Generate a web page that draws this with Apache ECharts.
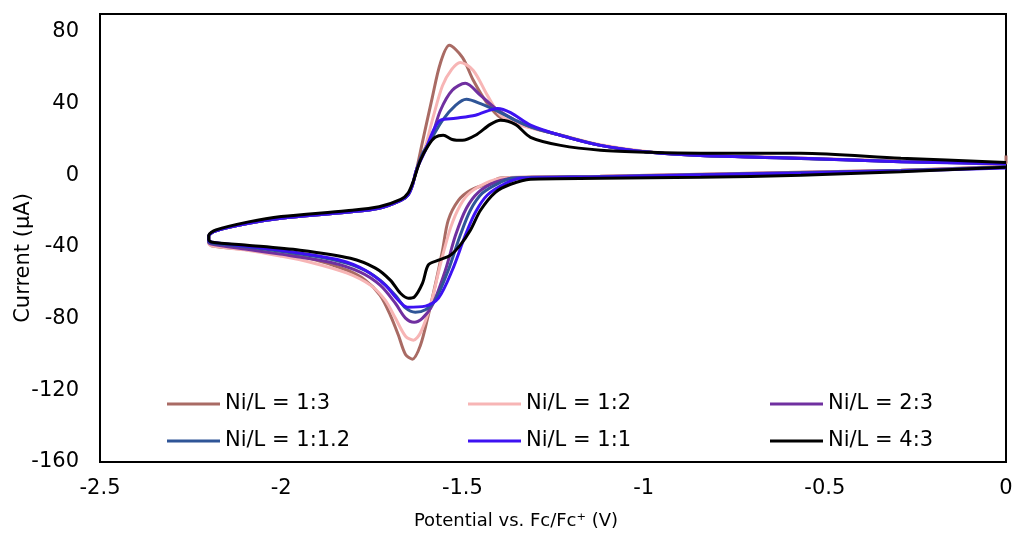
<!DOCTYPE html>
<html>
<head>
<meta charset="utf-8">
<script src="https://cdn.jsdelivr.net/npm/echarts@6/dist/echarts.min.js"></script>
<style>
html,body{margin:0;padding:0;background:#fff;}
#chart{width:1016px;height:536px;}
</style>
</head>
<body>
<div id="chart"></div>
<script>
// Series names and colours
const seriesNames = ['Ni/L = 1:3', 'Ni/L = 1:2', 'Ni/L = 2:3', 'Ni/L = 1:1.2', 'Ni/L = 1:1', 'Ni/L = 4:3'];
const seriesColors = ['#A96B64', '#F7B5B5', '#7030A0', '#2F5597', '#3D12F2', '#000000'];

// Axis ticks
const xTicks = [-2.5, -2, -1.5, -1, -0.5, 0];
const yTicks = [-160, -120, -80, -40, 0, 40, 80];

// [Potential (V), Current (µA)] — each trace: cathodic branch 0 -> -2.2 V, then anodic branch back to 0 V
const ni13 = [
  [0,5],[-0.29,2.8],[-0.57,1.7],[-0.84,0.6],[-1.12,-0.6],[-1.31,-1.0],[-1.395,-1.5],[-1.428,-4.5],[-1.478,-8.4],[-1.511,-14],[-1.539,-25],[-1.555,-42],[-1.572,-58.5],[-1.594,-78],[-1.616,-95],[-1.638,-102.6],[-1.657,-100],[-1.677,-89],[-1.699,-78],[-1.727,-67],[-1.768,-58.5],[-1.818,-53],[-1.92,-46.5],[-2.0,-44],[-2.094,-41.5],[-2.19,-39.5],[-2.2,-37.5],
  [-2.2,-34],[-2.18,-31],[-2.09,-26.8],[-2.0,-24],[-1.82,-20.6],[-1.73,-18.4],[-1.67,-14],[-1.65,-11],[-1.638,-5.6],[-1.627,2.8],[-1.611,17.8],[-1.583,43.5],[-1.561,62.4],[-1.536,72.5],[-1.5,65.8],[-1.47,53],[-1.431,40],[-1.395,32.3],[-1.312,26.8],[-1.229,22.3],[-1.119,16.7],[-0.981,12.8],[-0.843,11.1],[-0.566,9.5],[-0.29,7.8],[0,6.7],[0,11]
];
const ni12 = [
  [0,5],[-0.29,2.8],[-0.57,1.7],[-0.84,0.6],[-1.12,-0.6],[-1.31,-1.0],[-1.381,-1.4],[-1.423,-3.3],[-1.478,-9.5],[-1.506,-16.7],[-1.533,-29.5],[-1.561,-50],[-1.588,-72.5],[-1.616,-88],[-1.635,-92],[-1.657,-89.8],[-1.685,-79.7],[-1.713,-69.7],[-1.754,-61.3],[-1.818,-54.6],[-1.92,-48.5],[-2.003,-45],[-2.094,-41.8],[-2.19,-39.5],[-2.2,-38],
  [-2.2,-34],[-2.18,-31],[-2.09,-26.8],[-2.0,-24],[-1.82,-20.6],[-1.73,-18.4],[-1.67,-14],[-1.65,-11],[-1.638,-5.6],[-1.627,2.8],[-1.605,14],[-1.58,33],[-1.555,50],[-1.53,59],[-1.506,63],[-1.47,58.5],[-1.431,44.6],[-1.395,33.5],[-1.34,28],[-1.229,22.5],[-1.119,17],[-0.981,13],[-0.843,11.3],[-0.566,9.6],[-0.29,7.8],[0,6.7]
];
const ni23 = [
  [0,4.8],[-0.29,2.7],[-0.57,1.5],[-0.84,0.4],[-1.12,-0.7],[-1.35,-1.4],[-1.409,-3.9],[-1.456,-9.5],[-1.489,-18.4],[-1.519,-33.5],[-1.547,-53],[-1.583,-72.5],[-1.61,-79.7],[-1.633,-82],[-1.657,-79.7],[-1.685,-71.4],[-1.727,-61.3],[-1.782,-54],[-1.865,-48.5],[-2.003,-44],[-2.094,-41.3],[-2.19,-38.5],[-2.2,-37.5],
  [-2.2,-34],[-2.18,-31],[-2.09,-26.8],[-2.0,-24],[-1.82,-20.6],[-1.73,-18.4],[-1.67,-14],[-1.65,-11],[-1.638,-5.6],[-1.627,2.8],[-1.61,12],[-1.588,19.5],[-1.561,36],[-1.528,47.4],[-1.492,51.3],[-1.45,44.6],[-1.409,37.4],[-1.354,30.7],[-1.312,27],[-1.229,22.3],[-1.119,16.7],[-0.981,12.8],[-0.843,11],[-0.566,9.4],[-0.29,7.6],[0,6.5]
];
const ni112 = [
  [0,4.6],[-0.29,2.6],[-0.57,1.4],[-0.84,0.3],[-1.12,-0.8],[-1.36,-1.5],[-1.395,-3.9],[-1.445,-10],[-1.478,-19.5],[-1.506,-33.5],[-1.539,-53],[-1.575,-69.7],[-1.602,-75],[-1.63,-76.4],[-1.657,-74],[-1.685,-67],[-1.727,-58.5],[-1.782,-51.8],[-1.865,-46.8],[-2.003,-42.4],[-2.094,-40],[-2.19,-38],[-2.2,-37],
  [-2.2,-34],[-2.18,-31],[-2.09,-26.8],[-2.0,-24],[-1.82,-20.6],[-1.73,-18.4],[-1.67,-14],[-1.65,-11],[-1.638,-5.6],[-1.627,2.8],[-1.61,12],[-1.588,19.5],[-1.555,30.7],[-1.519,39],[-1.489,42.4],[-1.45,40],[-1.395,35],[-1.354,30.7],[-1.312,27],[-1.229,22.3],[-1.119,16.7],[-0.981,12.8],[-0.843,11],[-0.566,9.4],[-0.29,7.6],[0,6.5]
];
const ni11 = [
  [0,4],[-0.29,2.4],[-0.57,1.2],[-0.84,0.2],[-1.12,-0.9],[-1.34,-1.6],[-1.381,-4.5],[-1.431,-11],[-1.464,-20.6],[-1.492,-33.5],[-1.528,-53],[-1.566,-68.6],[-1.602,-73],[-1.652,-73.6],[-1.677,-69.7],[-1.713,-61.3],[-1.768,-53],[-1.837,-47.4],[-2.003,-41.8],[-2.094,-39.6],[-2.19,-37.4],[-2.2,-36.5],
  [-2.2,-34],[-2.18,-31],[-2.09,-26.8],[-2.0,-24],[-1.82,-20.6],[-1.73,-18.4],[-1.67,-14],[-1.65,-11],[-1.638,-5.6],[-1.627,2.8],[-1.602,14],[-1.58,25],[-1.561,30.7],[-1.519,31.8],[-1.464,33.5],[-1.403,37.3],[-1.367,35],[-1.312,28],[-1.229,22.3],[-1.119,16.7],[-0.981,12.8],[-0.843,11],[-0.566,9.5],[-0.29,7.5],[0,6.5]
];
const ni43 = [
  [0,4.5],[-0.29,2],[-0.566,0],[-0.843,-1.1],[-1.119,-1.7],[-1.312,-2.2],[-1.367,-5],[-1.409,-9.5],[-1.45,-19.5],[-1.478,-30.7],[-1.506,-39],[-1.533,-44.6],[-1.566,-47.4],[-1.594,-50],[-1.61,-60.2],[-1.633,-68],[-1.649,-68.6],[-1.671,-65.8],[-1.699,-58.5],[-1.74,-51.8],[-1.809,-46.3],[-1.948,-41.8],[-2.094,-39],[-2.19,-37.4],[-2.2,-36],
  [-2.2,-33.5],[-2.18,-30.5],[-2.09,-26],[-2.0,-23],[-1.82,-19.8],[-1.73,-17.6],[-1.67,-13.5],[-1.65,-10],[-1.635,-3],[-1.616,8.4],[-1.594,16.7],[-1.575,21.2],[-1.553,22.3],[-1.528,20],[-1.5,19.5],[-1.464,22.3],[-1.423,28.4],[-1.395,30.7],[-1.354,28.4],[-1.312,21.2],[-1.229,16.7],[-1.119,14],[-0.981,12.8],[-0.843,12.3],[-0.566,12.3],[-0.29,9.5],[0,7.2]
];
const traces = [ni13, ni12, ni23, ni112, ni11, ni43];

const FONT = 'DejaVu Sans';
const chart = echarts.init(document.getElementById('chart'), null, {renderer: 'canvas'});

const series = seriesNames.map((name, i) => ({
  name: name,
  type: 'line',
  data: traces[i],
  showSymbol: false,
  smooth: 0.3,
  lineStyle: {color: seriesColors[i], width: 3},
  itemStyle: {color: seriesColors[i]},
  z: 2 + i
}));

const legendCommon = {
  orient: 'vertical',
  top: 387,
  itemWidth: 53,
  itemHeight: 14,
  itemGap: 13,
  icon: 'path://M0,6 L53,6 L53,9 L0,9 Z',
  textStyle: {fontFamily: FONT, fontSize: 21, color: '#000', lineHeight: 24},
  selectedMode: false
};
const legendCols = [162, 463, 765];

chart.setOption({
  animation: false,
  backgroundColor: '#fff',
  grid: {left: 100, right: 10, top: 14, bottom: 74, show: true, borderColor: '#000', borderWidth: 2,
         containLabel: false, outerBoundsMode: 'none'},
  legend: legendCols.map((x, c) => Object.assign({}, legendCommon, {
    left: x, data: [seriesNames[c], seriesNames[c + 3]]
  })),
  xAxis: {
    type: 'value',
    min: xTicks[0], max: xTicks[xTicks.length - 1], interval: 0.5,
    axisLine: {show: false}, axisTick: {show: false}, splitLine: {show: false},
    axisLabel: {fontFamily: FONT, fontSize: 21, color: '#000', margin: 16},
    name: 'Potential vs. Fc/Fc⁺ (V)',
    nameLocation: 'middle', nameGap: 50, nameMoveOverlap: false,
    nameTextStyle: {fontFamily: FONT, fontSize: 18, color: '#000', padding: [0, 74, 0, 0]}
  },
  yAxis: {
    type: 'value',
    min: yTicks[0], max: 90, interval: 40,
    axisLine: {show: false}, axisTick: {show: false}, splitLine: {show: false},
    axisLabel: {fontFamily: FONT, fontSize: 21, color: '#000', margin: 21, showMaxLabel: false},
    name: 'Current (µA)',
    nameLocation: 'middle', nameGap: 66, nameRotate: 90, nameMoveOverlap: false,
    nameTextStyle: {fontFamily: FONT, fontSize: 21, color: '#000', padding: [0, 40, 0, 0]}
  },
  series: series
});
</script>
</body>
</html>
